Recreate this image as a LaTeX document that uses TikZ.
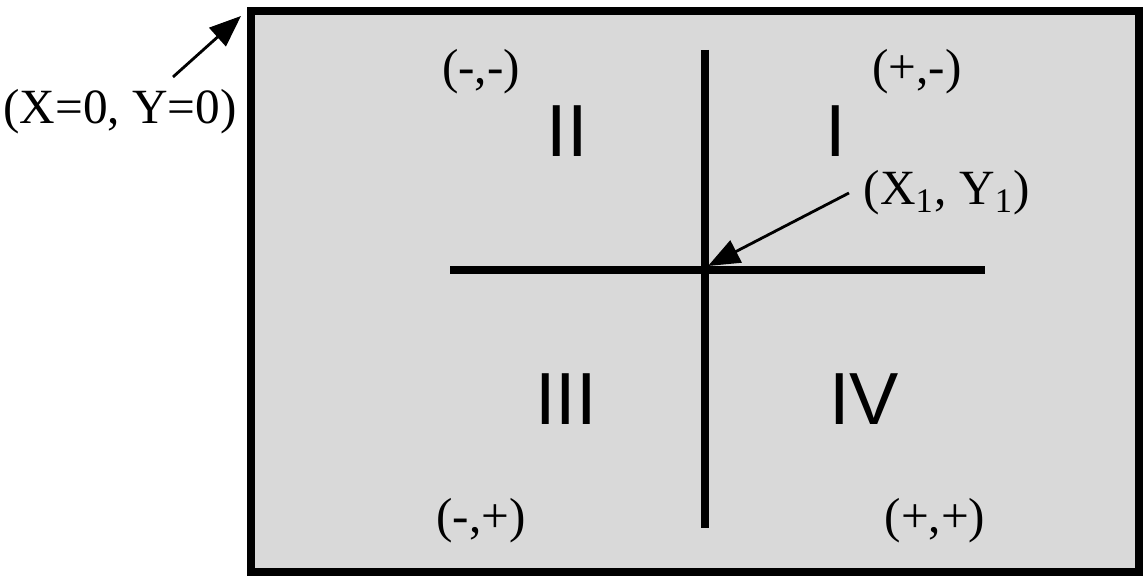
\documentclass[tikz,border=0pt]{standalone}
\usepackage{fontspec}
\setmainfont{Liberation Serif}
\newfontfamily\numfont{Liberation Sans}
\usetikzlibrary{arrows.meta, positioning, calc}
\definecolor{panelgray}{RGB}{217,217,217}

\begin{document}
\begin{tikzpicture}[x=0.01cm, y=-0.01cm,
  quad/.style={font=\numfont\fontsize{21}{21}\selectfont, inner sep=0pt},
  sign/.style={font=\fontsize{14}{14}\selectfont, inner sep=0pt},
  axis/.style={line width=2.1pt},
  pointer/.style={line width=0.8pt, -{Triangle[length=9pt,width=7pt]}}
]
  \useasboundingbox (0,0) rectangle (1145,579);
  % panel
  \draw[line width=2.1pt, fill=panelgray] (251,11) rectangle (1139,572);
  \coordinate (boxcorner) at (241,16);
  % axes through the point
  \coordinate (top) at (705,50);
  \coordinate (bottom) at (705,528);
  \coordinate (left) at (450,270);
  \coordinate (right) at (985,270);
  \coordinate (center) at (708,266);
  \draw[axis] (left) -- (right);
  \draw[axis] (top) -- (bottom);
  % quadrants
  \node[quad] (q2) at (567,131) {II};
  \node[quad] (q1) at (836,131) {I};
  \node[quad] (q3) at (566,399) {III};
  \node[quad] (q4) at (864,399) {IV};
  % signs
  \node[sign] (mm) at (481,72) {(-,-)};
  \node[sign] (pm) at (917,72) {(+,-)};
  \node[sign] (mp) at (481,521) {(-,+)};
  \node[sign] (pp) at (935,521) {(+,+)};
  % labels and pointers
  \node[sign] (origin) at (120,112) {(X=0, Y=0)};
  \node[sign] (point) at (947,193) {(X\textsubscript{1}, Y\textsubscript{1})};
  \draw[pointer] ([shift={(53,-12)}]origin.north) -- (boxcorner);
  \draw[pointer] ([xshift=-4]point.west) -- (center);
\end{tikzpicture}
\end{document}
